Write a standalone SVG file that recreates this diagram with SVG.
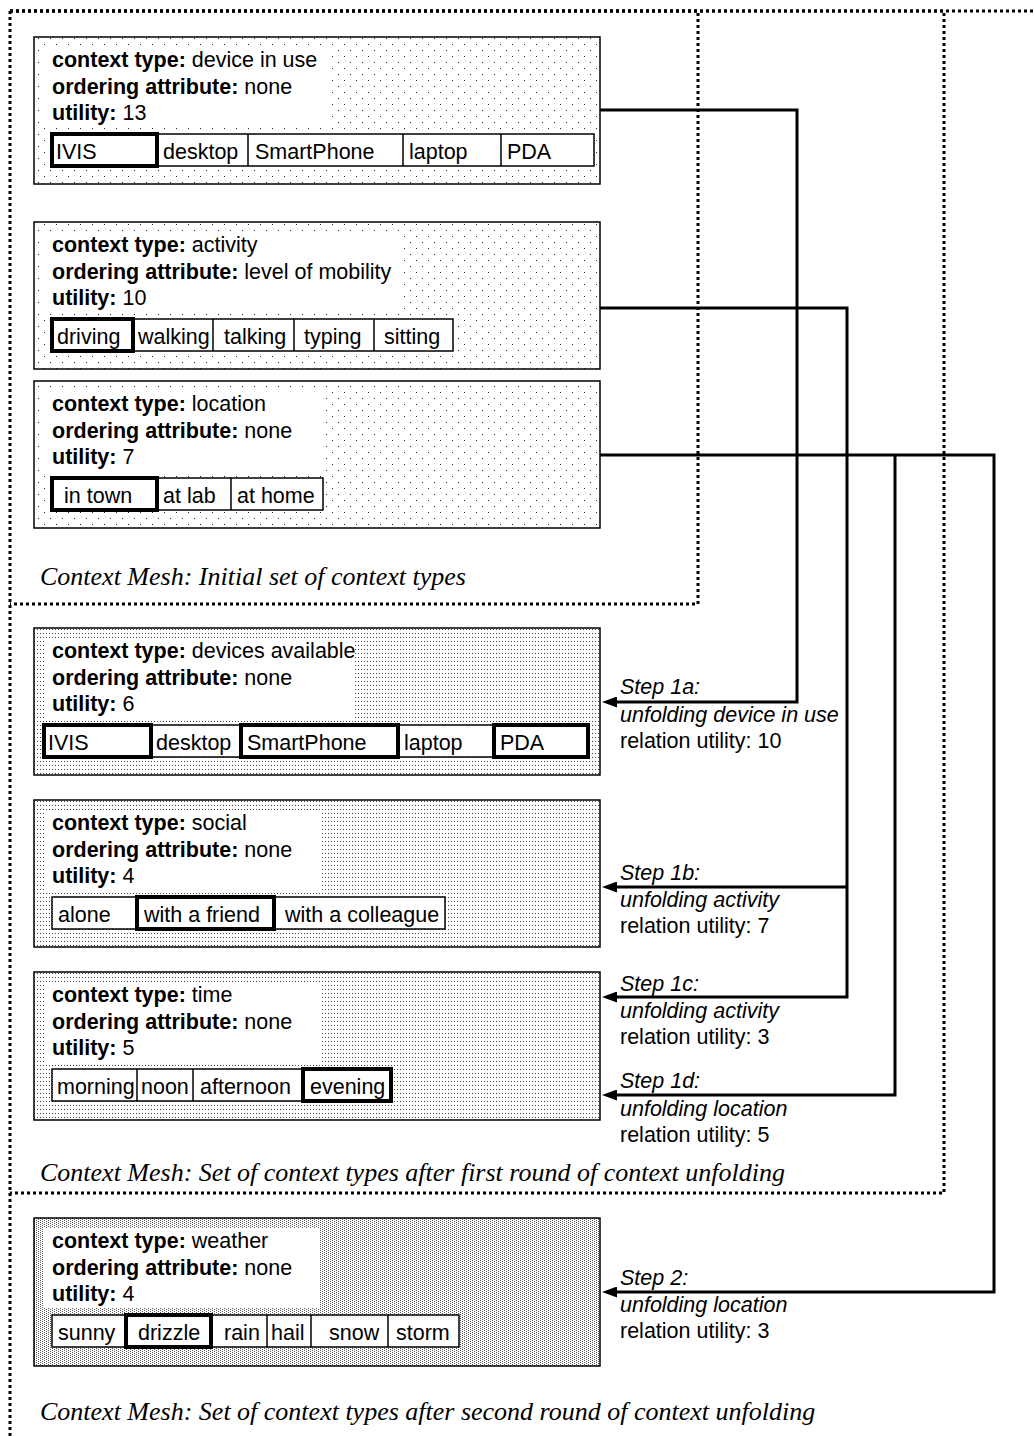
<svg xmlns="http://www.w3.org/2000/svg" width="1035" height="1436" viewBox="0 0 1035 1436">
  <style>
    .lbl { font-family: "Liberation Sans", Arial, sans-serif; font-size: 21.5px; fill: #000; }
    .b { font-weight: bold; }
    .it { font-style: italic; }
    .cap { font-family: "Liberation Serif", "Times New Roman", serif; font-style: italic; font-size: 26px; fill: #000; }
    .frame { fill: none; stroke: #000; stroke-width: 3; stroke-dasharray: 3 3; }
    .box { stroke: #000; stroke-width: 1.5; }
    .txtbg { fill: #fff; }
    .cell { fill: #fff; stroke: #000; stroke-width: 1.5; }
    .sel { fill: none; stroke: #000; stroke-width: 4; }
    .wire { fill: none; stroke: #000; stroke-width: 3; }
  </style>
  <defs>
    <!-- sparse staggered dots for the initial context types -->
    <pattern id="dotsSparse" width="12" height="12" patternUnits="userSpaceOnUse">
      <rect width="12" height="12" fill="#fff"/>
      <rect x="2" y="2" width="1" height="1" fill="#222"/>
      <rect x="8" y="8" width="1" height="1" fill="#222"/>
    </pattern>
    <!-- fine grid of dots for the first unfolding round -->
    <pattern id="dotsFine" width="3" height="4" patternUnits="userSpaceOnUse">
      <rect width="3" height="4" fill="#fff"/>
      <rect x="1" y="1" width="1" height="1" fill="#444"/>
    </pattern>
    <!-- dense checker of dots for the second unfolding round -->
    <pattern id="dotsDense" width="4" height="2" patternUnits="userSpaceOnUse">
      <rect width="4" height="2" fill="#fff"/>
      <rect x="0" y="0" width="1" height="1" fill="#555"/>
      <rect x="2" y="1" width="1" height="1" fill="#555"/>
    </pattern>
    <marker id="arrow" markerWidth="15" markerHeight="11" refX="0" refY="5.5" orient="auto" markerUnits="userSpaceOnUse">
      <path d="M0,0 L15,5.5 L0,11 z" fill="#000"/>
    </marker>
  </defs>

  <!-- dotted mesh frames; all edges start at the shared top-left corner so the dots line up -->
  <g id="frames">
    <path class="frame" d="M10,11 V1436"/>
    <path class="frame" d="M10,11 H1035"/>
    <path class="frame" d="M10,11 H944 V1193 H10"/>
    <path class="frame" d="M10,11 H698 V604 H10"/>
  </g>

  <!-- context type: device in use -->
  <g id="ctx-device-in-use">
    <rect class="box" x="34" y="37" width="566" height="147" fill="url(#dotsSparse)"/>
    <rect class="txtbg" x="44" y="47" width="284" height="80"/>
    <text class="lbl" x="52" y="67"><tspan class="b">context type:</tspan> device in use</text>
    <text class="lbl" x="52" y="94"><tspan class="b">ordering attribute:</tspan> none</text>
    <text class="lbl" x="52" y="120"><tspan class="b">utility:</tspan> 13</text>
    <rect class="cell" x="52" y="134" width="542" height="32"/>
    <line class="cell" x1="248" y1="134" x2="248" y2="166"/>
    <line class="cell" x1="403" y1="134" x2="403" y2="166"/>
    <line class="cell" x1="501" y1="134" x2="501" y2="166"/>
    <rect class="sel" x="52" y="134" width="105" height="32"/>
    <text class="lbl" x="56" y="159">IVIS</text>
    <text class="lbl" x="163" y="159">desktop</text>
    <text class="lbl" x="255" y="159">SmartPhone</text>
    <text class="lbl" x="409" y="159">laptop</text>
    <text class="lbl" x="507" y="159">PDA</text>
  </g>

  <!-- context type: activity -->
  <g id="ctx-activity">
    <rect class="box" x="34" y="222" width="566" height="147" fill="url(#dotsSparse)"/>
    <rect class="txtbg" x="44" y="232" width="359" height="80"/>
    <text class="lbl" x="52" y="252"><tspan class="b">context type:</tspan> activity</text>
    <text class="lbl" x="52" y="279"><tspan class="b">ordering attribute:</tspan> level of mobility</text>
    <text class="lbl" x="52" y="305"><tspan class="b">utility:</tspan> 10</text>
    <rect class="cell" x="52" y="319" width="401" height="32"/>
    <line class="cell" x1="213" y1="319" x2="213" y2="351"/>
    <line class="cell" x1="294" y1="319" x2="294" y2="351"/>
    <line class="cell" x1="374" y1="319" x2="374" y2="351"/>
    <rect class="sel" x="52" y="319" width="81" height="32"/>
    <text class="lbl" x="57" y="344">driving</text>
    <text class="lbl" x="138" y="344">walking</text>
    <text class="lbl" x="224" y="344">talking</text>
    <text class="lbl" x="304" y="344">typing</text>
    <text class="lbl" x="384" y="344">sitting</text>
  </g>

  <!-- context type: location -->
  <g id="ctx-location">
    <rect class="box" x="34" y="381" width="566" height="147" fill="url(#dotsSparse)"/>
    <rect class="txtbg" x="44" y="391" width="279" height="80"/>
    <text class="lbl" x="52" y="411"><tspan class="b">context type:</tspan> location</text>
    <text class="lbl" x="52" y="438"><tspan class="b">ordering attribute:</tspan> none</text>
    <text class="lbl" x="52" y="464"><tspan class="b">utility:</tspan> 7</text>
    <rect class="cell" x="52" y="478" width="271" height="32"/>
    <line class="cell" x1="231" y1="478" x2="231" y2="510"/>
    <rect class="sel" x="52" y="478" width="105" height="32"/>
    <text class="lbl" x="64" y="503">in town</text>
    <text class="lbl" x="163" y="503">at lab</text>
    <text class="lbl" x="237" y="503">at home</text>
  </g>

  <text class="cap" x="40" y="585">Context Mesh: Initial set of context types</text>

  <!-- context type: devices available -->
  <g id="ctx-devices-available">
    <rect class="box" x="34" y="628" width="566" height="147" fill="url(#dotsFine)"/>
    <rect class="txtbg" x="44" y="638" width="311" height="80"/>
    <text class="lbl" x="52" y="658"><tspan class="b">context type:</tspan> devices available</text>
    <text class="lbl" x="52" y="685"><tspan class="b">ordering attribute:</tspan> none</text>
    <text class="lbl" x="52" y="711"><tspan class="b">utility:</tspan> 6</text>
    <rect class="cell" x="44" y="725" width="544" height="32"/>
    <line class="cell" x1="398" y1="725" x2="398" y2="757"/>
    <rect class="sel" x="44" y="725" width="107" height="32"/>
    <rect class="sel" x="241" y="725" width="157" height="32"/>
    <rect class="sel" x="494" y="725" width="94" height="32"/>
    <text class="lbl" x="48" y="750">IVIS</text>
    <text class="lbl" x="156" y="750">desktop</text>
    <text class="lbl" x="247" y="750">SmartPhone</text>
    <text class="lbl" x="404" y="750">laptop</text>
    <text class="lbl" x="500" y="750">PDA</text>
  </g>

  <!-- context type: social -->
  <g id="ctx-social">
    <rect class="box" x="34" y="800" width="566" height="147" fill="url(#dotsFine)"/>
    <rect class="txtbg" x="44" y="810" width="276" height="80"/>
    <text class="lbl" x="52" y="830"><tspan class="b">context type:</tspan> social</text>
    <text class="lbl" x="52" y="857"><tspan class="b">ordering attribute:</tspan> none</text>
    <text class="lbl" x="52" y="883"><tspan class="b">utility:</tspan> 4</text>
    <rect class="cell" x="52" y="897" width="393" height="32"/>
    <rect class="sel" x="137" y="897" width="137" height="32"/>
    <text class="lbl" x="58" y="922">alone</text>
    <text class="lbl" x="144" y="922">with a friend</text>
    <text class="lbl" x="285" y="922">with a colleague</text>
  </g>

  <!-- context type: time -->
  <g id="ctx-time">
    <rect class="box" x="34" y="972" width="566" height="148" fill="url(#dotsFine)"/>
    <rect class="txtbg" x="44" y="982" width="276" height="80"/>
    <text class="lbl" x="52" y="1002"><tspan class="b">context type:</tspan> time</text>
    <text class="lbl" x="52" y="1029"><tspan class="b">ordering attribute:</tspan> none</text>
    <text class="lbl" x="52" y="1055"><tspan class="b">utility:</tspan> 5</text>
    <rect class="cell" x="52" y="1069" width="339" height="32"/>
    <line class="cell" x1="137" y1="1069" x2="137" y2="1101"/>
    <line class="cell" x1="193" y1="1069" x2="193" y2="1101"/>
    <rect class="sel" x="303" y="1069" width="88" height="32"/>
    <text class="lbl" x="57" y="1094">morning</text>
    <text class="lbl" x="141" y="1094">noon</text>
    <text class="lbl" x="200" y="1094">afternoon</text>
    <text class="lbl" x="310" y="1094">evening</text>
  </g>

  <text class="cap" x="40" y="1181">Context Mesh: Set of context types after first round of context unfolding</text>

  <!-- context type: weather -->
  <g id="ctx-weather">
    <rect class="box" x="34" y="1218" width="566" height="148" fill="url(#dotsDense)"/>
    <rect class="txtbg" x="44" y="1228" width="276" height="80"/>
    <text class="lbl" x="52" y="1248"><tspan class="b">context type:</tspan> weather</text>
    <text class="lbl" x="52" y="1275"><tspan class="b">ordering attribute:</tspan> none</text>
    <text class="lbl" x="52" y="1301"><tspan class="b">utility:</tspan> 4</text>
    <rect class="cell" x="52" y="1315" width="407" height="32"/>
    <line class="cell" x1="267" y1="1315" x2="267" y2="1347"/>
    <line class="cell" x1="311" y1="1315" x2="311" y2="1347"/>
    <line class="cell" x1="388" y1="1315" x2="388" y2="1347"/>
    <rect class="sel" x="126" y="1315" width="85" height="32"/>
    <text class="lbl" x="58" y="1340">sunny</text>
    <text class="lbl" x="138" y="1340">drizzle</text>
    <text class="lbl" x="224" y="1340">rain</text>
    <text class="lbl" x="271" y="1340">hail</text>
    <text class="lbl" x="329" y="1340">snow</text>
    <text class="lbl" x="396" y="1340">storm</text>
  </g>

  <text class="cap" x="40" y="1420">Context Mesh: Set of context types after second round of context unfolding</text>

  <!-- unfolding relations -->
  <g id="connectors">
    <path class="wire" d="M600,110 H797 V702 H617" marker-end="url(#arrow)"/>
    <path class="wire" d="M600,308 H847 V997 H617" marker-end="url(#arrow)"/>
    <path class="wire" d="M847,887 H617" marker-end="url(#arrow)"/>
    <path class="wire" d="M600,455 H994 V1292 H617" marker-end="url(#arrow)"/>
    <path class="wire" d="M895,455 V1095 H617" marker-end="url(#arrow)"/>
  </g>

  <!-- relation labels -->
  <g id="step-labels">
    <text class="lbl it" x="620" y="694">Step 1a:</text>
    <text class="lbl it" x="620" y="722">unfolding device in use</text>
    <text class="lbl" x="620" y="748">relation utility: 10</text>

    <text class="lbl it" x="620" y="880">Step 1b:</text>
    <text class="lbl it" x="620" y="907">unfolding activity</text>
    <text class="lbl" x="620" y="933">relation utility: 7</text>

    <text class="lbl it" x="620" y="991">Step 1c:</text>
    <text class="lbl it" x="620" y="1018">unfolding activity</text>
    <text class="lbl" x="620" y="1044">relation utility: 3</text>

    <text class="lbl it" x="620" y="1088">Step 1d:</text>
    <text class="lbl it" x="620" y="1116">unfolding location</text>
    <text class="lbl" x="620" y="1142">relation utility: 5</text>

    <text class="lbl it" x="620" y="1285">Step 2:</text>
    <text class="lbl it" x="620" y="1312">unfolding location</text>
    <text class="lbl" x="620" y="1338">relation utility: 3</text>
  </g>
</svg>
